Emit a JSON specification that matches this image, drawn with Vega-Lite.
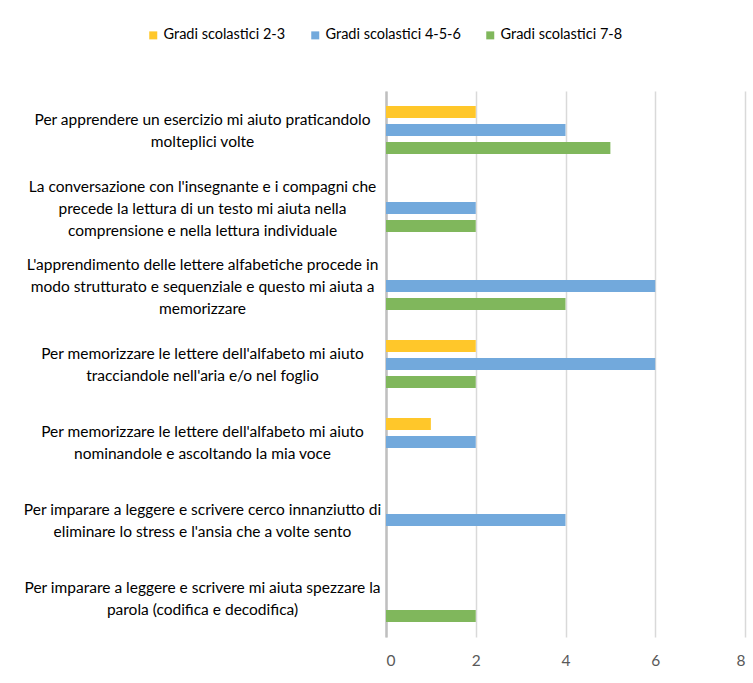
{
  "$schema": "https://vega.github.io/schema/vega-lite/v6.json",
  "autosize": {"type": "none"},
  "width": 359,
  "height": 546,
  "padding": {"left": 386, "top": 91, "right": 8, "bottom": 46},
  "background": "white",
  "data": {
    "values": [
      {"cat": "Per apprendere un esercizio mi aiuto praticandolo|molteplici volte", "ord": 1, "serie": "Gradi scolastici 2-3", "value": 2},
      {"cat": "Per apprendere un esercizio mi aiuto praticandolo|molteplici volte", "ord": 1, "serie": "Gradi scolastici 4-5-6", "value": 4},
      {"cat": "Per apprendere un esercizio mi aiuto praticandolo|molteplici volte", "ord": 1, "serie": "Gradi scolastici 7-8", "value": 5},
      {"cat": "La conversazione con l'insegnante e i compagni che|precede la lettura di un testo mi aiuta nella|comprensione e nella lettura individuale", "ord": 2, "serie": "Gradi scolastici 2-3", "value": 0},
      {"cat": "La conversazione con l'insegnante e i compagni che|precede la lettura di un testo mi aiuta nella|comprensione e nella lettura individuale", "ord": 2, "serie": "Gradi scolastici 4-5-6", "value": 2},
      {"cat": "La conversazione con l'insegnante e i compagni che|precede la lettura di un testo mi aiuta nella|comprensione e nella lettura individuale", "ord": 2, "serie": "Gradi scolastici 7-8", "value": 2},
      {"cat": "L'apprendimento delle lettere alfabetiche procede in|modo strutturato e sequenziale e questo mi aiuta a|memorizzare", "ord": 3, "serie": "Gradi scolastici 2-3", "value": 0},
      {"cat": "L'apprendimento delle lettere alfabetiche procede in|modo strutturato e sequenziale e questo mi aiuta a|memorizzare", "ord": 3, "serie": "Gradi scolastici 4-5-6", "value": 6},
      {"cat": "L'apprendimento delle lettere alfabetiche procede in|modo strutturato e sequenziale e questo mi aiuta a|memorizzare", "ord": 3, "serie": "Gradi scolastici 7-8", "value": 4},
      {"cat": "Per memorizzare le lettere dell'alfabeto mi aiuto|tracciandole nell'aria e/o nel foglio", "ord": 4, "serie": "Gradi scolastici 2-3", "value": 2},
      {"cat": "Per memorizzare le lettere dell'alfabeto mi aiuto|tracciandole nell'aria e/o nel foglio", "ord": 4, "serie": "Gradi scolastici 4-5-6", "value": 6},
      {"cat": "Per memorizzare le lettere dell'alfabeto mi aiuto|tracciandole nell'aria e/o nel foglio", "ord": 4, "serie": "Gradi scolastici 7-8", "value": 2},
      {"cat": "Per memorizzare le lettere dell'alfabeto mi aiuto|nominandole e ascoltando la mia voce", "ord": 5, "serie": "Gradi scolastici 2-3", "value": 1},
      {"cat": "Per memorizzare le lettere dell'alfabeto mi aiuto|nominandole e ascoltando la mia voce", "ord": 5, "serie": "Gradi scolastici 4-5-6", "value": 2},
      {"cat": "Per memorizzare le lettere dell'alfabeto mi aiuto|nominandole e ascoltando la mia voce", "ord": 5, "serie": "Gradi scolastici 7-8", "value": 0},
      {"cat": "Per imparare a leggere e scrivere cerco innanziutto di|eliminare lo stress e l'ansia che a volte sento", "ord": 6, "serie": "Gradi scolastici 2-3", "value": 0},
      {"cat": "Per imparare a leggere e scrivere cerco innanziutto di|eliminare lo stress e l'ansia che a volte sento", "ord": 6, "serie": "Gradi scolastici 4-5-6", "value": 4},
      {"cat": "Per imparare a leggere e scrivere cerco innanziutto di|eliminare lo stress e l'ansia che a volte sento", "ord": 6, "serie": "Gradi scolastici 7-8", "value": 0},
      {"cat": "Per imparare a leggere e scrivere mi aiuta spezzare la|parola (codifica e decodifica)", "ord": 7, "serie": "Gradi scolastici 2-3", "value": 0},
      {"cat": "Per imparare a leggere e scrivere mi aiuta spezzare la|parola (codifica e decodifica)", "ord": 7, "serie": "Gradi scolastici 4-5-6", "value": 0},
      {"cat": "Per imparare a leggere e scrivere mi aiuta spezzare la|parola (codifica e decodifica)", "ord": 7, "serie": "Gradi scolastici 7-8", "value": 2}
    ]
  },
  "mark": {"type": "bar", "cornerRadius": 0},
  "encoding": {
    "y": {
      "field": "cat",
      "type": "nominal",
      "sort": {"field": "ord", "op": "min"},
      "scale": {"paddingInner": 0, "paddingOuter": 0},
      "axis": {
        "title": null,
        "ticks": false,
        "domain": true,
        "domainColor": "#BFBFBF",
        "domainWidth": 2.5,
        "labelExpr": "split(datum.label, '|')",
        "labelAlign": "center",
        "labelPadding": 184,
        "labelOffset": {"condition": {"test": "length(split(datum.value, '|')) == 3", "value": -21}, "value": -10},
        "labelFont": "Lato",
        "labelFontSize": 15.5,
        "labelColor": "#000000",
        "labelLineHeight": 22,
        "labelLimit": 0
      }
    },
    "yOffset": {
      "field": "serie",
      "type": "nominal",
      "scale": {"paddingInner": 0.333, "paddingOuter": 0.833}
    },
    "x": {
      "field": "value",
      "type": "quantitative",
      "scale": {"domain": [0, 8]},
      "axis": {
        "title": null,
        "values": [0, 2, 4, 6, 8],
        "domain": false,
        "ticks": false,
        "grid": true,
        "gridColor": "#D9D9D9",
        "gridWidth": 1.5,
        "labelPadding": 16,
        "labelFont": "Lato",
        "labelFontSize": 15.5,
        "labelColor": "#595959"
      }
    },
    "color": {
      "field": "serie",
      "type": "nominal",
      "scale": {
        "domain": ["Gradi scolastici 2-3", "Gradi scolastici 4-5-6", "Gradi scolastici 7-8"],
        "range": ["#FFC72A", "#72A9DC", "#80B75C"]
      },
      "legend": {
        "title": null,
        "orient": "none",
        "direction": "horizontal",
        "legendX": -240,
        "legendY": -63,
        "symbolType": "square",
        "symbolSize": 64,
        "labelFont": "Lato",
        "labelFontSize": 14.5,
        "labelColor": "#000000",
        "labelOffset": 3,
        "columnPadding": 22
      }
    }
  },
  "config": {"view": {"stroke": null}}
}
